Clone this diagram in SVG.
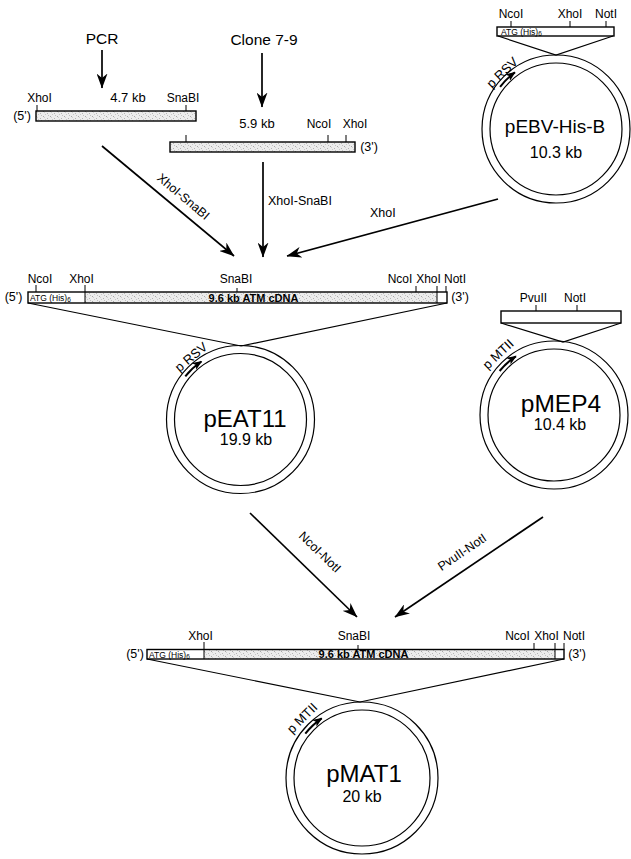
<svg xmlns="http://www.w3.org/2000/svg" width="631" height="859" viewBox="0 0 631 859">
<style>
text { font-family: "Liberation Sans", Arial, Helvetica, sans-serif; fill: #000; }
.s { font-size: 12px; text-anchor: middle; }
.kb { font-size: 13px; text-anchor: middle; }
.end { font-size: 12.5px; text-anchor: middle; }
.big { font-size: 15.5px; text-anchor: middle; }
.atg { font-size: 8.5px; }
.cdna { font-size: 11px; font-weight: bold; text-anchor: middle; }
.name { font-size: 24px; text-anchor: middle; }
.size { font-size: 16px; text-anchor: middle; }
.prom { font-size: 13px; text-anchor: middle; }
.alab { font-size: 12.5px; }
.bar { stroke: #000; stroke-width: 1.4; }
.tick { stroke: #000; stroke-width: 1; }
.ring { fill: none; stroke: #000; stroke-width: 1.2; }
.vee { fill: none; stroke: #000; stroke-width: 1.2; }
.conn { fill: none; stroke: #000; stroke-width: 1.7; marker-end: url(#ah); }
.parr { fill: none; stroke: #000; stroke-width: 2; marker-end: url(#pa); }
</style>
<defs>
<marker id="ah" viewBox="0 0 15 11" refX="14.5" refY="5.5" markerWidth="15" markerHeight="11" markerUnits="userSpaceOnUse" orient="auto">
<path d="M0,0 L15,5.5 L0,11 L4.5,5.5 Z" fill="#000"/>
</marker>
<marker id="pa" viewBox="0 0 10 8" refX="9" refY="4" markerWidth="10" markerHeight="8" markerUnits="userSpaceOnUse" orient="auto">
<path d="M0,0 L10,4 L0,8 L2.5,4 Z" fill="#000"/>
</marker>
<pattern id="stip" width="7" height="5" patternUnits="userSpaceOnUse">
<rect width="7" height="5" fill="#ececec"/>
<rect x="1" y="1" width="1" height="1" fill="#a8a8a8"/>
<rect x="5" y="3" width="1" height="1" fill="#b4b4b4"/>
<rect x="3" y="4" width="1" height="1" fill="#c8c8c8"/>
<rect x="6" y="0" width="1" height="1" fill="#c0c0c0"/>
<rect x="2" y="2" width="1" height="1" fill="#d0d0d0"/>
</pattern>
</defs>
<rect width="631" height="859" fill="#fff"/>

<g id="node-pcr">
<text class="big" x="102" y="44">PCR</text>
<text class="s" x="39.5" y="102">XhoI</text>
<text class="kb" x="128" y="102">4.7 kb</text>
<text class="s" x="183" y="102">SnaBI</text>
<text class="end" x="22" y="120">(5')</text>
<line class="tick" x1="37" y1="105" x2="37" y2="111"/>
<line class="tick" x1="186" y1="105" x2="186" y2="111"/>
<rect class="bar" x="36" y="111" width="160" height="10" fill="url(#stip)"/>
</g>

<g id="node-clone">
<text class="big" x="264" y="45">Clone 7-9</text>
<text class="kb" x="257" y="128">5.9 kb</text>
<text class="s" x="319" y="128">NcoI</text>
<text class="s" x="355" y="128">XhoI</text>
<text class="end" x="369" y="151">(3')</text>
<line class="tick" x1="186" y1="135" x2="186" y2="142"/>
<line class="tick" x1="328" y1="135" x2="328" y2="142"/>
<line class="tick" x1="346" y1="135" x2="346" y2="142"/>
<rect class="bar" x="170" y="142" width="185" height="10" fill="url(#stip)"/>
</g>

<g id="node-pebv">
<text class="s" x="511" y="18">NcoI</text>
<text class="s" x="570" y="18">XhoI</text>
<text class="s" x="606" y="18">NotI</text>
<line class="tick" x1="511" y1="21" x2="511" y2="27"/>
<line class="tick" x1="570" y1="21" x2="570" y2="27"/>
<line class="tick" x1="606" y1="21" x2="606" y2="27"/>
<rect class="bar" x="497" y="27" width="117" height="9" fill="#fff"/>
<text class="atg" x="501" y="34.5">ATG  (His)<tspan font-size="6.5" dy="1">6</tspan></text>
<polyline class="vee" points="498,36 556,55 613,36"/>
<circle class="ring" cx="556" cy="129" r="74"/>
<circle class="ring" cx="556" cy="129" r="66"/>
<path class="parr" d="M500.1,86.9 A70,70 0 0 1 514.9,72.4"/>
<text class="prom" transform="translate(502,72.5) rotate(-44)" dy="0.35em">p RSV</text>
<text x="555" y="133" font-size="19" text-anchor="middle">pEBV-His-B</text>
<text class="size" x="556" y="158">10.3 kb</text>
</g>

<g id="node-peat11">
<text class="s" x="40" y="283">NcoI</text>
<text class="s" x="81.5" y="283">XhoI</text>
<text class="s" x="236" y="283">SnaBI</text>
<text class="s" x="400" y="283">NcoI</text>
<text class="s" x="428.5" y="283">XhoI</text>
<text class="s" x="455" y="283">NotI</text>
<text class="end" x="13.5" y="301">(5')</text>
<text class="end" x="460" y="301">(3')</text>
<line class="tick" x1="36" y1="285" x2="36" y2="292"/>
<line class="tick" x1="85" y1="285" x2="85" y2="292"/>
<line class="tick" x1="237" y1="288" x2="237" y2="292"/>
<line class="tick" x1="416" y1="286" x2="416" y2="292"/>
<line class="tick" x1="437" y1="286" x2="437" y2="292"/>
<line class="tick" x1="446" y1="286" x2="446" y2="292"/>
<rect x="28" y="292" width="419" height="11" fill="#fff"/>
<rect x="85" y="292" width="352" height="11" fill="url(#stip)"/>
<rect class="bar" x="28" y="292" width="419" height="11" fill="none"/>
<line class="tick" x1="85" y1="292" x2="85" y2="303"/>
<line class="tick" x1="437" y1="292" x2="437" y2="303"/>
<text class="atg" x="30" y="301">ATG  (His)<tspan font-size="6.5" dy="1">6</tspan></text>
<text class="cdna" x="253.5" y="301.5">9.6 kb ATM cDNA</text>
<polyline class="vee" points="28,303 241,346 447,303"/>
<circle class="ring" cx="240.5" cy="419.5" r="74"/>
<circle class="ring" cx="240.5" cy="419.5" r="66"/>
<path class="parr" d="M185.3,376.4 A70,70 0 0 1 201.4,361.5"/>
<text class="prom" transform="translate(191,357) rotate(-40)" dy="0.35em">p RSV</text>
<text class="name" x="245" y="427">pEAT11</text>
<text class="size" x="246" y="445">19.9 kb</text>
</g>

<g id="node-pmep4">
<text class="s" x="533.5" y="302">PvuII</text>
<text class="s" x="575" y="302">NotI</text>
<line class="tick" x1="536" y1="305" x2="536" y2="311"/>
<line class="tick" x1="577" y1="305" x2="577" y2="311"/>
<rect class="bar" x="501" y="311" width="120" height="12" fill="#fff"/>
<polyline class="vee" points="501,323 563,342 621,323"/>
<circle class="ring" cx="554" cy="415" r="74"/>
<circle class="ring" cx="554" cy="415" r="66"/>
<path class="parr" d="M499.6,371.0 A70,70 0 0 1 515.9,356.3"/>
<text class="prom" transform="translate(498,354) rotate(-43)" dy="0.35em">p MTII</text>
<text x="561" y="412" font-size="24.5" text-anchor="middle">pMEP4</text>
<text class="size" x="560" y="430">10.4 kb</text>
</g>

<g id="node-pmat1">
<text class="s" x="200.5" y="640">XhoI</text>
<text class="s" x="354" y="640">SnaBI</text>
<text class="s" x="517.5" y="640">NcoI</text>
<text class="s" x="546.5" y="640">XhoI</text>
<text class="s" x="574" y="640">NotI</text>
<text class="end" x="135" y="658">(5')</text>
<text class="end" x="577" y="658">(3')</text>
<line class="tick" x1="204" y1="642" x2="204" y2="649.5"/>
<line class="tick" x1="358" y1="645" x2="358" y2="649.5"/>
<line class="tick" x1="534" y1="643" x2="534" y2="649.5"/>
<line class="tick" x1="555" y1="643" x2="555" y2="649.5"/>
<line class="tick" x1="564" y1="643" x2="564" y2="649.5"/>
<rect x="147" y="649.5" width="417" height="9.5" fill="#fff"/>
<rect x="204" y="649.5" width="351" height="9.5" fill="url(#stip)"/>
<rect class="bar" x="147" y="649.5" width="417" height="9.5" fill="none"/>
<line class="tick" x1="204" y1="649.5" x2="204" y2="659"/>
<line class="tick" x1="555" y1="649.5" x2="555" y2="659"/>
<text class="atg" x="149" y="657.5">ATG  (His)<tspan font-size="6.5" dy="1">6</tspan></text>
<text class="cdna" x="363.5" y="658">9.6 kb ATM cDNA</text>
<polyline class="vee" points="147,659 360,702 564,659"/>
<circle class="ring" cx="362" cy="778" r="76"/>
<circle class="ring" cx="362" cy="778" r="68"/>
<path class="parr" d="M305.3,733.7 A72,72 0 0 1 321.7,718.3"/>
<text class="prom" transform="translate(302,718) rotate(-45)" dy="0.35em">p MTII</text>
<text class="name" x="364" y="782">pMAT1</text>
<text class="size" x="362" y="802">20 kb</text>
</g>

<g id="connectors">
<line class="conn" x1="102" y1="50" x2="102" y2="88"/>
<line class="conn" x1="262" y1="53" x2="262" y2="107"/>
<line class="conn" x1="102" y1="146" x2="234" y2="256"/>
<line class="conn" x1="263" y1="162" x2="263" y2="257"/>
<line class="conn" x1="498" y1="199" x2="287" y2="256"/>
<line class="conn" x1="250" y1="513" x2="357" y2="617"/>
<line class="conn" x1="543" y1="517" x2="395" y2="617"/>
<text class="alab" text-anchor="middle" transform="translate(183.5,196.5) rotate(40)" dy="0.35em">XhoI-SnaBI</text>
<text class="alab" x="268" y="205">XhoI-SnaBI</text>
<text class="alab" x="370" y="217">XhoI</text>
<text class="alab" text-anchor="middle" transform="translate(320,552) rotate(44)" dy="0.35em">NcoI-NotI</text>
<text class="alab" text-anchor="middle" transform="translate(462,552) rotate(-34)" dy="0.35em">PvuII-NotI</text>
</g>
</svg>
